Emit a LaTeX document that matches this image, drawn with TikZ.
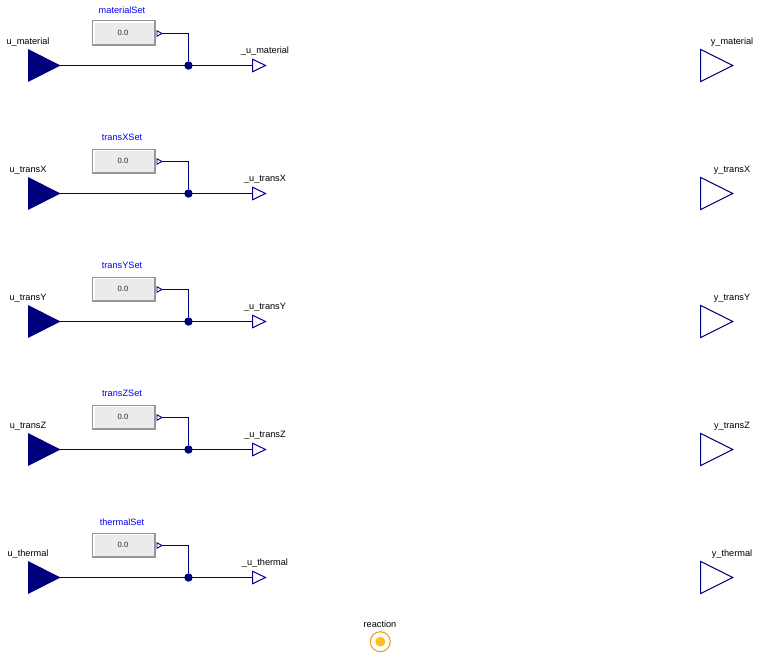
\documentclass[tikz,border=0pt]{standalone}
\usepackage{fontspec}
\setmainfont{Liberation Sans}
\definecolor{navyc}{RGB}{0,0,127}
\definecolor{setblue}{RGB}{0,0,255}
\definecolor{boxfill}{RGB}{235,235,235}
\definecolor{boxedge}{RGB}{150,150,150}
\definecolor{ringc}{RGB}{240,150,20}
\definecolor{corec}{RGB}{255,190,30}
\tikzset{
  lbl/.style={inner sep=0pt,font=\fontsize{9.2pt}{10pt}\selectfont,text=black},
  setlbl/.style={lbl,text=setblue},
  val/.style={inner sep=0pt,font=\fontsize{7.6pt}{8pt}\selectfont,text=black!85},
  setbox/.style={fill=boxedge,draw=none,minimum width=64pt,minimum height=25.5pt,inner sep=0pt},
  wire/.style={draw=navyc,line width=1.25pt},
  tri/.style={draw=navyc,line width=1pt,line join=miter,fill=white},
  junction/.style={circle,fill=navyc,draw=none,minimum size=8.4pt,inner sep=0pt},
}
\begin{document}
\begin{tikzpicture}[x=1pt,y=-1pt]
\useasboundingbox (0,0) rectangle (760,658);
\foreach \name [count=\i from 0] in {material,transX,transY,transZ,thermal}{
  \pgfmathsetmacro{\y}{65.5+128*\i}
  % input
  \coordinate (in\i) at (60,\y);
  \fill[navyc] (28,\y-16.5) -- (60.5,\y) -- (28,\y+16.5) -- cycle;
  \node[lbl] (ulabel\i) at (28,\y-23.5) {u\_\name};
  % source box: grey bevel, white highlight, face
  \node[setbox] (box\i) at (124,\y-32.25) {};
  \fill[white] (93,\y-44) rectangle (154,\y-21.5);
  \fill[boxfill] (94.5,\y-42.5) rectangle (154,\y-21.5);
  \node[val] (val\i) at (123,\y-33) {0.0};
  \node[setlbl] (set\i) at (122,\y-55.7) {\name Set};
  % small output of source
  \coordinate (s\i) at (162,\y-32);
  \draw[tri,line width=.9pt] (157,\y-34.7) -- (s\i) -- (157,\y-29.3) -- cycle;
  % junction and wires
  \node[junction] (j\i) at (188.5,\y) {};
  \coordinate (o\i) at (252.5,\y);
  \draw[wire] (in\i) -- (o\i);
  \draw[wire] (s\i) -| (j\i);
  \draw[tri] (o\i) ++(0,-6.3) -- (265.5,\y) -- (252.5,\y+6.3) -- cycle;
  \node[lbl] (ulab\i) at (265,\y-14.3) {\_u\_\name};
  % right output
  \draw[tri] (700.7,\y-16) -- (732.7,\y) -- (700.7,\y+16) -- cycle;
  \node[lbl] (ylab\i) at (732,\y-23.5) {y\_\name};
}
\node[circle,draw=ringc,line width=1pt,fill=white,minimum size=20pt,inner sep=0pt] (reaction) at (380.3,641.7) {};
\node[circle,fill=corec,minimum size=10pt,inner sep=0pt] (core) at (reaction) {};
\node[lbl] (reactionlabel) at (380,624) {reaction};
\end{tikzpicture}
\end{document}
